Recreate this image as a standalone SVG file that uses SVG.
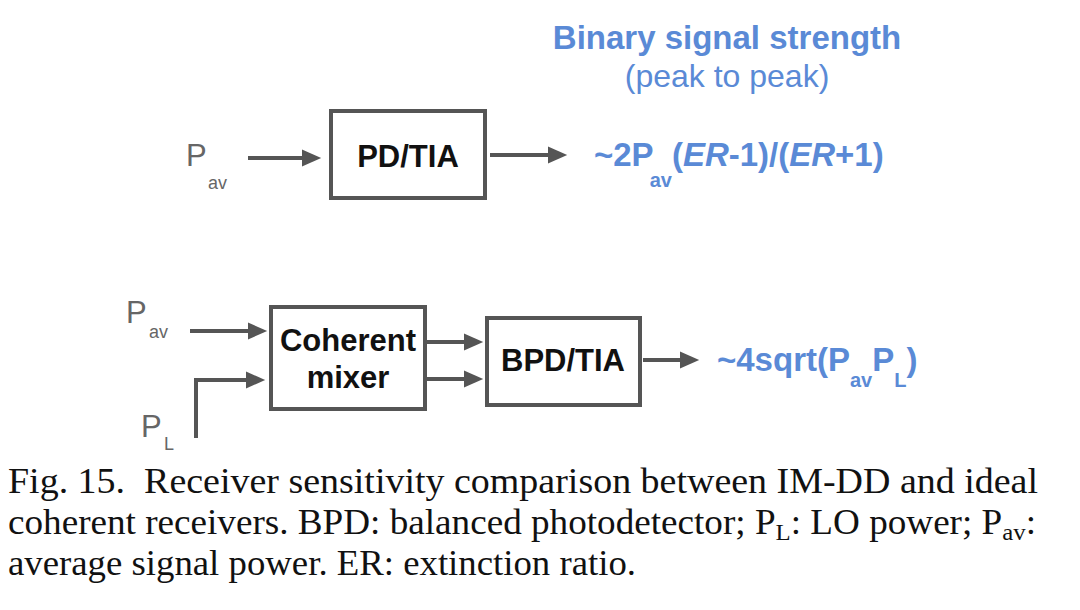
<svg xmlns="http://www.w3.org/2000/svg" width="1080" height="610" viewBox="0 0 1080 610">
<style>
.box{fill:#fff;stroke:#555;stroke-width:4}
.ln{fill:none;stroke:#555;stroke-width:4}
.lbl{font-family:"Liberation Sans",Arial,sans-serif;font-weight:bold;font-size:31px;fill:#111;text-anchor:middle}
.p{font-family:"Liberation Sans",Arial,sans-serif;font-size:31px;fill:#666}
.ps{font-family:"Liberation Sans",Arial,sans-serif;font-size:18px;fill:#666}
.blue{font-family:"Liberation Sans",Arial,sans-serif;fill:#5a8ad6}
.cap{font-family:"Liberation Serif","Times New Roman",serif;font-size:36px;fill:#111}
</style>
<defs>
<marker id="ah" markerWidth="5" markerHeight="5" refX="0.5" refY="2.5" orient="auto" markerUnits="strokeWidth">
<path d="M0,0.4 L4.8,2.5 L0,4.6 Z" fill="#555"/>
</marker>
</defs>
<rect width="1080" height="610" fill="#fff"/>
<g id="title">
<text class="blue" x="727" y="49" font-size="33" font-weight="bold" text-anchor="middle">Binary signal strength</text>
<text class="blue" x="727" y="87" font-size="32" text-anchor="middle">(peak to peak)</text>
</g>
<g id="connectors">
<line class="ln" x1="248" y1="158" x2="304" y2="158" marker-end="url(#ah)"/>
<line class="ln" x1="490" y1="155" x2="550" y2="155" marker-end="url(#ah)"/>
<line class="ln" x1="190" y1="331" x2="250" y2="331" marker-end="url(#ah)"/>
<polyline class="ln" points="196,438 196,380 248,380" marker-end="url(#ah)"/>
<line class="ln" x1="427" y1="342" x2="466" y2="342" marker-end="url(#ah)"/>
<line class="ln" x1="427" y1="379" x2="466" y2="379" marker-end="url(#ah)"/>
<line class="ln" x1="643" y1="360" x2="682" y2="360" marker-end="url(#ah)"/>
</g>
<g id="pav1">
<text class="p" x="186" y="166">P</text>
<text class="ps" x="208" y="189">av</text>
</g>
<g id="pdtia">
<rect class="box" x="331" y="111" width="154" height="87"/>
<text class="lbl" x="408" y="167">PD/TIA</text>
</g>
<g id="out1">
<text class="blue" x="594" y="166" font-size="33" font-weight="bold">~2P<tspan font-size="20" dy="21" dx="-4">av</tspan><tspan dy="-21">(</tspan><tspan font-style="italic">ER</tspan>-1)/(<tspan font-style="italic">ER</tspan>+1)</text>
</g>
<g id="pav2">
<text class="p" x="126" y="323">P</text>
<text class="ps" x="149" y="338">av</text>
</g>
<g id="pl">
<text class="p" x="141" y="437">P</text>
<text class="ps" x="164" y="450">L</text>
</g>
<g id="mixer">
<rect class="box" x="271" y="307" width="154" height="102"/>
<text class="lbl" x="348" y="351" font-size="29">Coherent</text>
<text class="lbl" x="348" y="388" font-size="29">mixer</text>
</g>
<g id="bpdtia">
<rect class="box" x="487" y="318" width="153" height="87"/>
<text class="lbl" x="563" y="371">BPD/TIA</text>
</g>
<g id="out2">
<text class="blue" x="717" y="371" font-size="33" font-weight="bold">~4sqrt(P<tspan font-size="20" dy="16">av</tspan><tspan dy="-16">P</tspan><tspan font-size="20" dy="16">L</tspan><tspan dy="-16">)</tspan></text>
</g>
<g id="caption">
<text class="cap" x="8" y="493" textLength="1030" lengthAdjust="spacingAndGlyphs" xml:space="preserve">Fig. 15.  Receiver sensitivity comparison between IM-DD and ideal</text>
<text class="cap" x="8" y="534" textLength="1028" lengthAdjust="spacingAndGlyphs">coherent receivers. BPD: balanced photodetector; P<tspan font-size="24" dy="6">L</tspan><tspan dy="-6">: LO power; P</tspan><tspan font-size="24" dy="6">av</tspan><tspan dy="-6">:</tspan></text>
<text class="cap" x="8" y="575" textLength="628" lengthAdjust="spacingAndGlyphs">average signal power. ER: extinction ratio.</text>
</g>
</svg>
